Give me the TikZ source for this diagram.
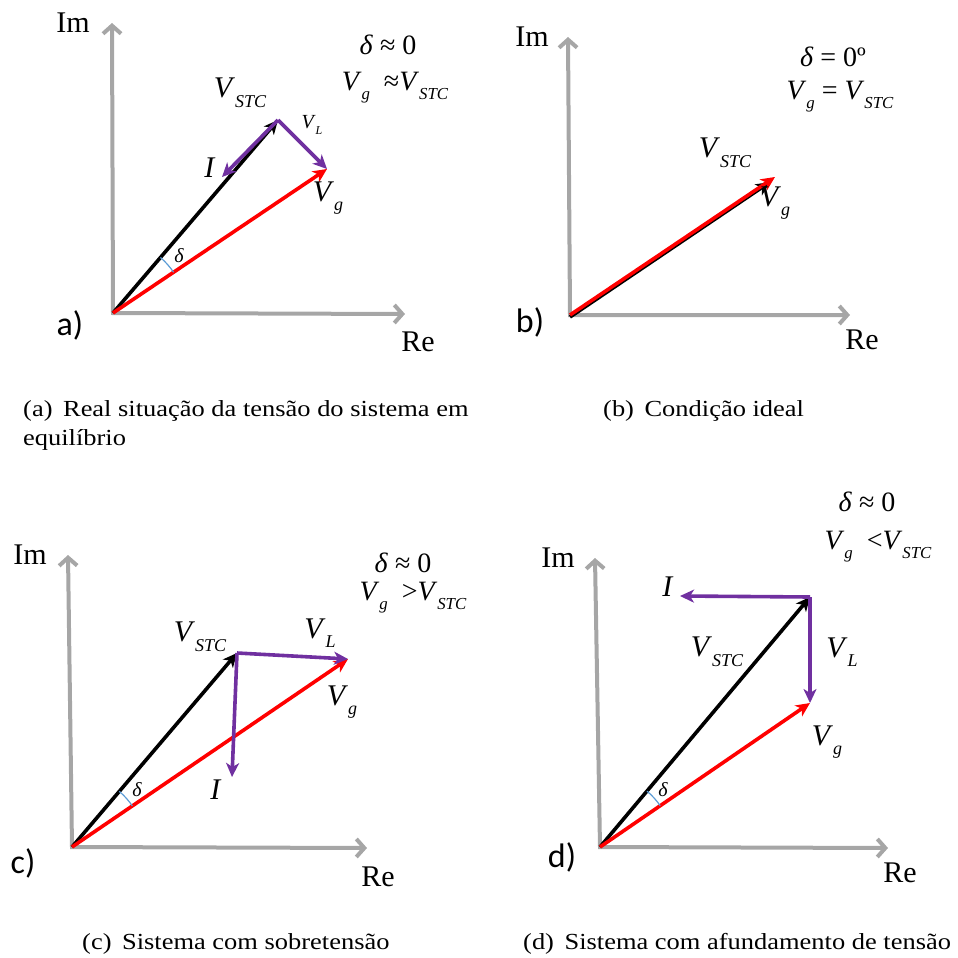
\documentclass[tikz,border=0pt]{standalone}
\usepackage{fontspec}
\setmainfont{Liberation Serif}
\newfontfamily\panelfont{Carlito}
\usetikzlibrary{arrows.meta,angles}
\definecolor{axisgray}{HTML}{A6A6A6}
\definecolor{phpurple}{HTML}{7030A0}
\definecolor{arcblue}{HTML}{5B9BD5}
\newcommand{\vsub}[2]{\textit{#1}\raisebox{-0.32em}{\scalebox{0.6}{\textit{#2}}}}
\newcommand{\capstretch}[1]{\scalebox{1.15}[1]{#1}}
\tikzset{
  axis/.style={axisgray, line width=4pt,
    {Straight Barb[length=8pt,width=18pt]}-{Straight Barb[length=8pt,width=18pt]}},
  phasor/.style={line width=3.6pt, -{Stealth[length=14pt,width=13pt,inset=4pt]}},
  vstc/.style={phasor, black},
  vg/.style={phasor, red},
  vl/.style={phasor, phpurple},
  axlabel/.style={font=\fontsize{30}{30}\selectfont},
  vlabel/.style={font=\fontsize{30}{30}\selectfont},
  eqlabel/.style={font=\fontsize{28}{28}\selectfont},
  panel/.style={font=\panelfont\fontsize{34}{34}\selectfont},
  dlabel/.style={font=\fontsize{20}{20}\selectfont\itshape},
  caption/.style={font=\fontsize{23}{29}\selectfont, inner sep=0pt, align=left},
  darc/.style={draw=arcblue, line width=1.2pt, angle radius=73pt},
}
\begin{document}
\begin{tikzpicture}[x=1pt,y=-1pt]
\useasboundingbox (0,0) rectangle (958,958);

% (a) situacao real
\coordinate (oa) at (113,313);
\coordinate (ima) at (112,23);
\coordinate (rea) at (405,314);
\coordinate (sa) at (278,120);
\coordinate (ga) at (327,169);
\coordinate (ia) at (222,177);
\draw[axis] (ima) -- (oa) -- (rea);
\draw[vstc] (oa) -- (sa);
\draw[vg] (oa) -- (ga);
\draw[vl] (sa) -- (ga);
\draw[vl] (sa) -- (ia);
\pic[darc] {angle=ga--oa--sa};
\node[axlabel] (lima) at (73,23) {Im};
\node[axlabel] (lrea) at (418,342) {Re};
\node[panel] (pa) at (70,325) {a)};
\node[vlabel] (lsa) at (240,93) {\vsub{V}{STC}};
\node[font=\fontsize{20}{20}\selectfont] (lla) at (312,125) {\vsub{V}{L}};
\node[vlabel] (lia) at (210,168) {\textit{I}};
\node[vlabel] (lga) at (328,198) {\vsub{V}{g}};
\node[dlabel] (lda) at (179,256) {δ};
\node[eqlabel] (eqa1) at (388,45) {\textit{δ} ≈ 0};
\node[eqlabel] (eqa2) at (395,88) {\vsub{V}{g}\ \ ≈\vsub{V}{STC}};
\node[caption, anchor=north west] (capa) at (23,400)
  {\capstretch{(a)\hspace{0.4em}Real situação da tensão do sistema em}\\\capstretch{equilíbrio}};

% (b) condicao ideal
\coordinate (ob) at (570,315);
\coordinate (obs) at (570,317);
\coordinate (imb) at (568,37);
\coordinate (reb) at (850,315);
\coordinate (sb) at (770,182);
\coordinate (gb) at (775,177);
\draw[axis] (imb) -- (ob) -- (reb);
\draw[vstc] (obs) -- (sb);
\draw[vg] (ob) -- (gb);
\node[axlabel] (limb) at (532,37) {Im};
\node[axlabel] (lreb) at (862,340) {Re};
\node[panel] (pb) at (530,322) {b)};
\node[vlabel] (lsb) at (725,153) {\vsub{V}{STC}};
\node[vlabel] (lgb) at (775,203) {\vsub{V}{g}};
\node[eqlabel] (eqb1) at (833,57) {\textit{δ} = 0º};
\node[eqlabel] (eqb2) at (840,97) {\vsub{V}{g}\ = \vsub{V}{STC}};
\node[caption, anchor=base west] (capb) at (603,416)
  {\capstretch{(b)\hspace{0.4em}Condição ideal}};

% (c) sobretensao
\coordinate (oc) at (72,847);
\coordinate (imc) at (68,555);
\coordinate (rec) at (367,848);
\coordinate (sc) at (237,653);
\coordinate (gc) at (348,659);
\coordinate (ic) at (232,777);
\draw[axis] (imc) -- (oc) -- (rec);
\draw[vstc] (oc) -- (sc);
\draw[vg] (oc) -- (gc);
\draw[vl] (sc) -- (gc);
\draw[vl] (sc) -- (ic);
\pic[darc] {angle=gc--oc--sc};
\node[axlabel] (limc) at (30,555) {Im};
\node[axlabel] (lrec) at (378,877) {Re};
\node[panel] (pc) at (23,863) {c)};
\node[vlabel] (lsc) at (200,637) {\vsub{V}{STC}};
\node[vlabel] (llc) at (320,633) {\vsub{V}{L}};
\node[vlabel] (lgc) at (342,702) {\vsub{V}{g}};
\node[vlabel] (lic) at (216,790) {\textit{I}};
\node[dlabel] (ldc) at (137,790) {δ};
\node[eqlabel] (eqc1) at (403,563) {\textit{δ} ≈ 0};
\node[eqlabel] (eqc2) at (413,598) {\vsub{V}{g}\ \ >\vsub{V}{STC}};
\node[caption, anchor=base west] (capc) at (82,949)
  {\capstretch{(c)\hspace{0.4em}Sistema com sobretensão}};

% (d) afundamento
\coordinate (od) at (600,847);
\coordinate (imd) at (595,558);
\coordinate (red) at (888,848);
\coordinate (sd) at (810,597);
\coordinate (gd) at (810,703);
\coordinate (id) at (680,596);
\draw[axis] (imd) -- (od) -- (red);
\draw[vstc] (od) -- (sd);
\draw[vg] (od) -- (gd);
\draw[vl] (sd) -- (gd);
\draw[vl] (sd) -- (id);
\pic[darc] {angle=gd--od--sd};
\node[axlabel] (limd) at (558,558) {Im};
\node[axlabel] (lred) at (900,873) {Re};
\node[panel] (pd) at (562,857) {d)};
\node[vlabel] (lid) at (668,587) {\textit{I}};
\node[vlabel] (lsd) at (717,652) {\vsub{V}{STC}};
\node[vlabel] (lld) at (842,652) {\vsub{V}{L}};
\node[vlabel] (lgd) at (827,742) {\vsub{V}{g}};
\node[dlabel] (ldd) at (663,790) {δ};
\node[eqlabel] (eqd1) at (867,502) {\textit{δ} ≈ 0};
\node[eqlabel] (eqd2) at (878,547) {\vsub{V}{g}\ \ <\vsub{V}{STC}};
\node[caption, anchor=base west] (capd) at (523,949)
  {\capstretch{(d)\hspace{0.4em}Sistema com afundamento de tensão}};
\end{tikzpicture}
\end{document}
